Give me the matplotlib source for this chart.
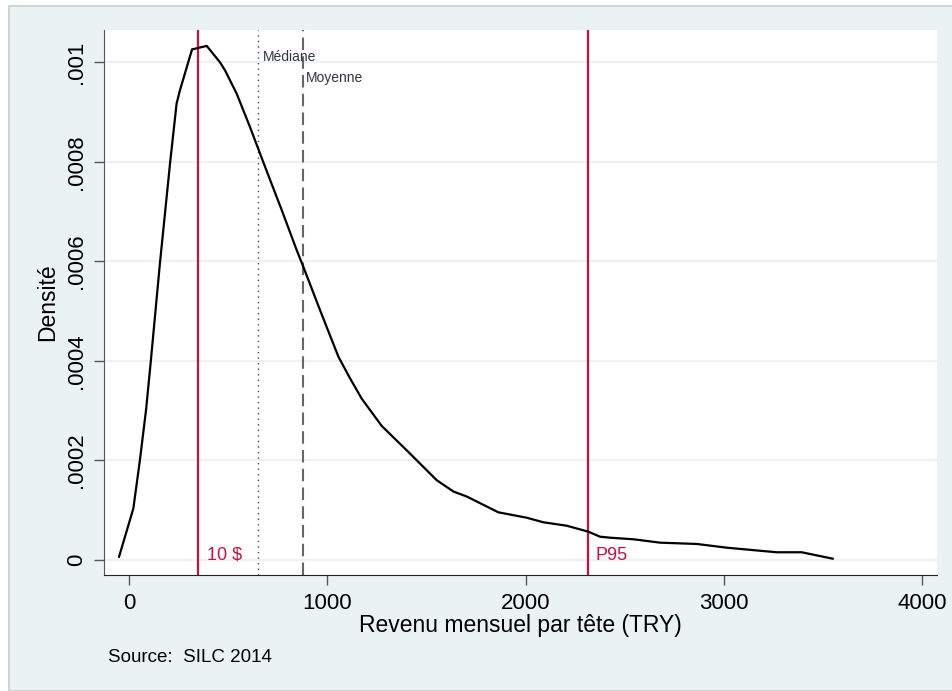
import numpy as np
import matplotlib.pyplot as plt
from matplotlib.patches import Rectangle

plt.rcParams['font.family'] = ['Liberation Sans', 'DejaVu Sans']

# Kernel density
revenu = [-50, 22, 55, 86, 109, 156, 207, 240, 257, 318, 392, 459, 484, 543,
          610, 686, 770, 846, 879, 963, 1056, 1114, 1173, 1274, 1400, 1551,
          1636, 1703, 1862, 2005, 2089, 2207, 2316, 2375, 2426, 2544, 2678,
          2863, 3014, 3266, 3392, 3548]
densite = [0.000006, 0.000103, 0.0002, 0.000301, 0.000395, 0.000596, 0.000797,
           0.000917, 0.000944, 0.001026, 0.001033, 0.001000, 0.000984,
           0.000937, 0.00087, 0.00079, 0.000703, 0.000622, 0.000589, 0.000502,
           0.000408, 0.000365, 0.000324, 0.000269, 0.000220, 0.000160,
           0.000137, 0.000127, 0.0000953, 0.0000844, 0.0000752, 0.0000683,
           0.0000563, 0.0000462, 0.0000442, 0.000041, 0.0000342, 0.0000316,
           0.0000241, 0.0000149, 0.0000149, 0.000002]

seuil_10 = 348
mediane = 652
moyenne = 877
p95 = 2316

x_ticks = [0, 1000, 2000, 3000, 4000]
y_ticks = [0, 0.0002, 0.0004, 0.0006, 0.0008, 0.001]
y_labels = ['0', '.0002', '.0004', '.0006', '.0008', '.001']

rouge = '#c8103e'
fond = '#eaf2f3'

fig = plt.figure(figsize=(9.52, 6.91), dpi=100, facecolor='white')
# framed background like the Stata export
fig.patches.append(Rectangle((9 / 952, 0), 1, (691 - 6) / 691, transform=fig.transFigure,
                             facecolor=fond, edgecolor='#c8cccc', linewidth=1.2, zorder=-5))

ax = fig.add_axes([104 / 952, 116 / 691, 833 / 952, 545 / 691])
ax.set_facecolor('white')

ax.plot(revenu, densite, color='black', linewidth=1.6, zorder=3)

ax.axvline(seuil_10, color=rouge, linewidth=1.6, zorder=2)
ax.axvline(p95, color=rouge, linewidth=1.6, zorder=2)
ax.axvline(mediane, color='#444444', linewidth=1.0, linestyle=(0, (1, 3)), zorder=2)
ax.axvline(moyenne, color='#666666', linewidth=1.5, linestyle=(0, (6, 3)), zorder=2)

ax.annotate('Médiane', xy=(mediane, 0.00101), xytext=(3.4, 0), textcoords='offset points',
            ha='left', va='center', fontsize=10, color='#333344')
ax.annotate('Moyenne', xy=(moyenne, 0.000968), xytext=(2.2, 0), textcoords='offset points',
            ha='left', va='center', fontsize=10, color='#333344')
ax.annotate('10 $', xy=(seuil_10, 0.0000095), xytext=(6.5, 0), textcoords='offset points',
            ha='left', va='center', fontsize=13, color=rouge)
ax.annotate('P95', xy=(p95, 0.0000075), xytext=(5.3, 0), textcoords='offset points',
            ha='left', va='center', fontsize=13, color=rouge)

ax.set_xlim(-126, 4074)
ax.set_ylim(-0.0000308, 0.001065)
ax.set_xticks(x_ticks)
ax.set_yticks(y_ticks)
ax.set_yticklabels(y_labels, rotation=90, va='center')
ax.tick_params(axis='both', labelsize=16, length=7, width=1, color='#555555', pad=6)
ax.tick_params(axis='y', pad=5)
ax.grid(axis='y', color=fond, linewidth=1.5, zorder=1)
ax.set_axisbelow(True)

for s in ['top', 'right']:
    ax.spines[s].set_visible(False)
ax.spines['left'].set_color('#555555')
ax.spines['bottom'].set_color('#222222')

ax.set_xlabel('Revenu mensuel par tête (TRY)', fontsize=16.5, labelpad=0)
ax.set_ylabel('Densité', fontsize=16.5, labelpad=5)

fig.text(108 / 952, 1 - 657 / 691, 'Source:  SILC 2014', fontsize=13.5, ha='left', va='center')

fig.savefig('out.png', dpi=100, facecolor=fig.get_facecolor())
